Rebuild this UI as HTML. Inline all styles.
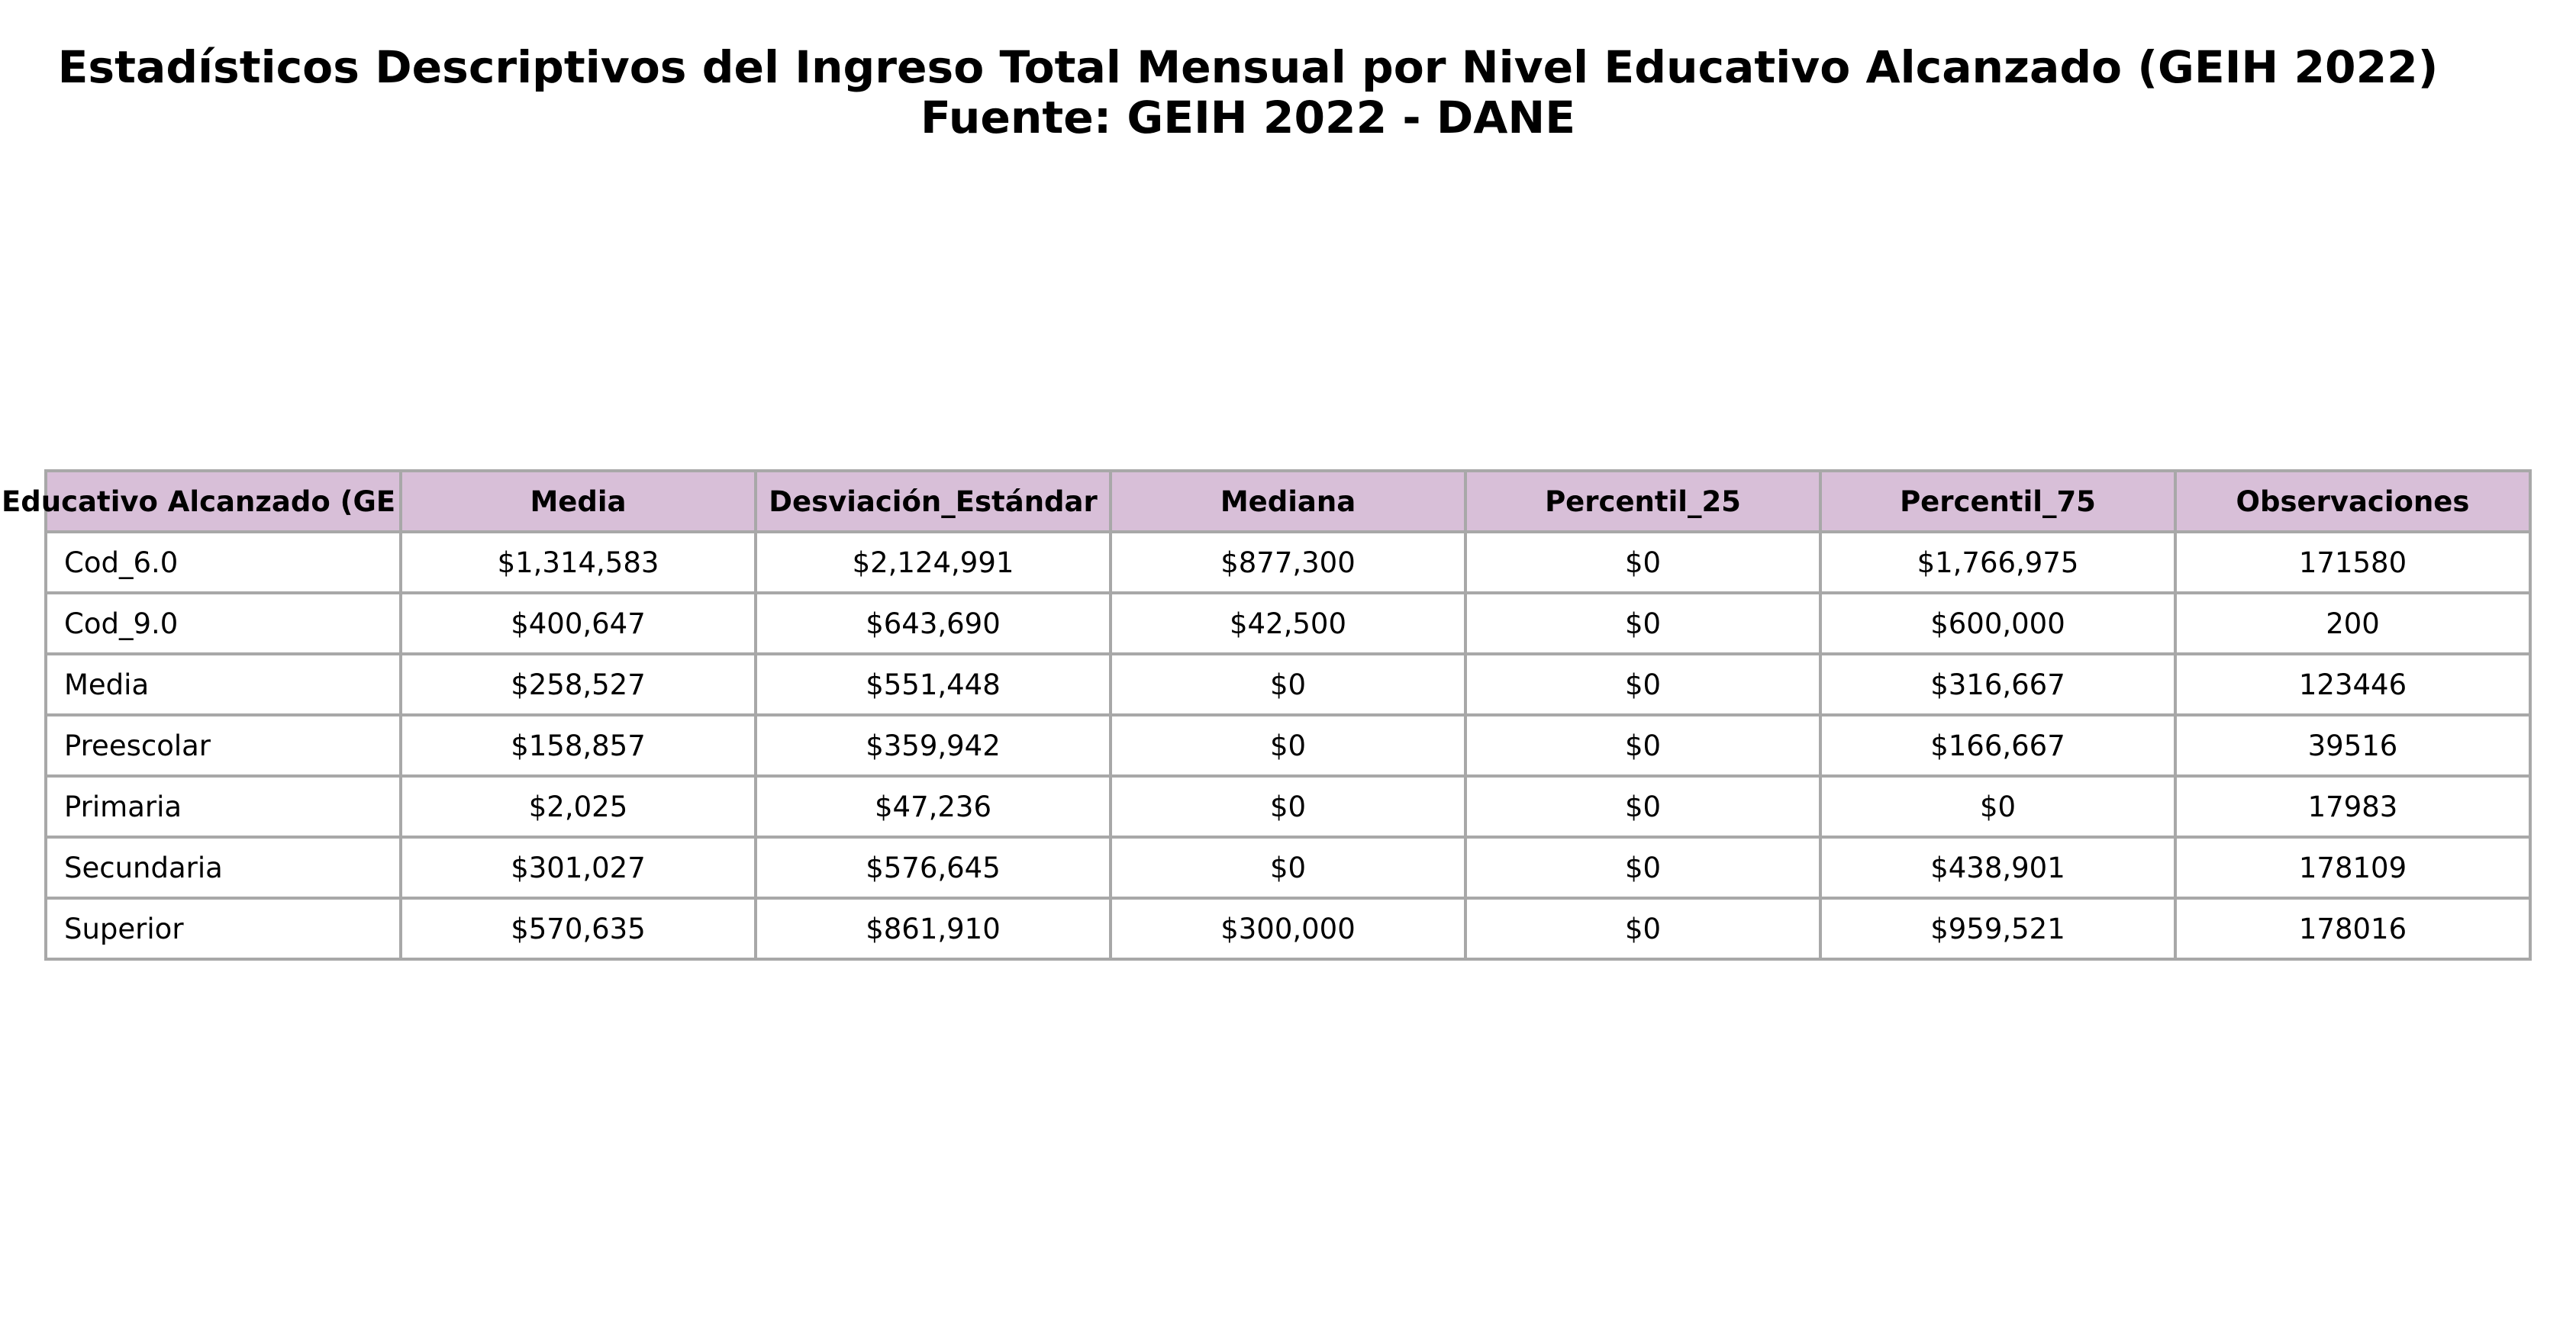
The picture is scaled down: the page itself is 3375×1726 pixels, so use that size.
<!DOCTYPE html>
<html><head><meta charset="utf-8">
<style>
html,body{margin:0;padding:0;background:#fff;}
svg{display:block;font-family:"DejaVu Sans","Liberation Sans",sans-serif;}
</style></head>
<body>
<svg id="chart" width="3375" height="1726" viewBox="0 0 3375 1726" xmlns="http://www.w3.org/2000/svg">
<rect width="3375" height="1726" fill="#fff"/>
<text x="1635" y="108" text-anchor="middle" font-size="58.3" font-weight="bold" fill="#000">Estadísticos Descriptivos del Ingreso Total Mensual por Nivel Educativo Alcanzado (GEIH 2022)</text>
<text x="1635" y="174" text-anchor="middle" font-size="58.3" font-weight="bold" fill="#000">Fuente: GEIH 2022 - DANE</text>
<g id="tbl"></g>
</svg>
<script>
const headers = ["Educativo Alcanzado (GE","Media","Desviación_Estándar","Mediana","Percentil_25","Percentil_75","Observaciones"];
const categories = ["Cod_6.0","Cod_9.0","Media","Preescolar","Primaria","Secundaria","Superior"];
const media = ["$1,314,583","$400,647","$258,527","$158,857","$2,025","$301,027","$570,635"];
const desviacion = ["$2,124,991","$643,690","$551,448","$359,942","$47,236","$576,645","$861,910"];
const mediana = ["$877,300","$42,500","$0","$0","$0","$0","$300,000"];
const p25 = ["$0","$0","$0","$0","$0","$0","$0"];
const p75 = ["$1,766,975","$600,000","$316,667","$166,667","$0","$438,901","$959,521"];
const observaciones = ["171580","200","123446","39516","17983","178109","178016"];

const NS="http://www.w3.org/2000/svg";
const g=document.getElementById('tbl');
const x0=60, colW=465, y0=617, rowH=80;
const cols=[categories,media,desviacion,mediana,p25,p75,observaciones];
function mk(tag,attrs){const e=document.createElementNS(NS,tag);for(const k in attrs)e.setAttribute(k,attrs[k]);return e;}
headers.forEach((h,c)=>{
  const r=mk('rect',{x:x0+c*colW,y:y0,width:colW,height:rowH,fill:'#d8bfd8',stroke:'#a8a8a8','stroke-width':4});
  
  
  g.appendChild(r);
  const t=mk('text',{x:c===0?2:x0+c*colW+colW/2,y:y0+rowH/2+13,'text-anchor':c===0?'start':'middle','font-size':37,'font-weight':'bold',fill:'#000'});
  t.textContent=h;
  
  
  g.appendChild(t);
});
categories.forEach((cat,r)=>{
  cols.forEach((arr,c)=>{
    const y=y0+(r+1)*rowH;
    const rc=mk('rect',{x:x0+c*colW,y:y,width:colW,height:rowH,fill:'#fff',stroke:'#a8a8a8','stroke-width':4});
    
    
    g.appendChild(rc);
    const t=mk('text',{x:c===0?x0+24:x0+c*colW+colW/2,y:y+rowH/2+13,'text-anchor':c===0?'start':'middle','font-size':37,fill:'#000'});
    t.textContent=arr[r];
    
    
    g.appendChild(t);
  });
});
</script>
</body></html>
